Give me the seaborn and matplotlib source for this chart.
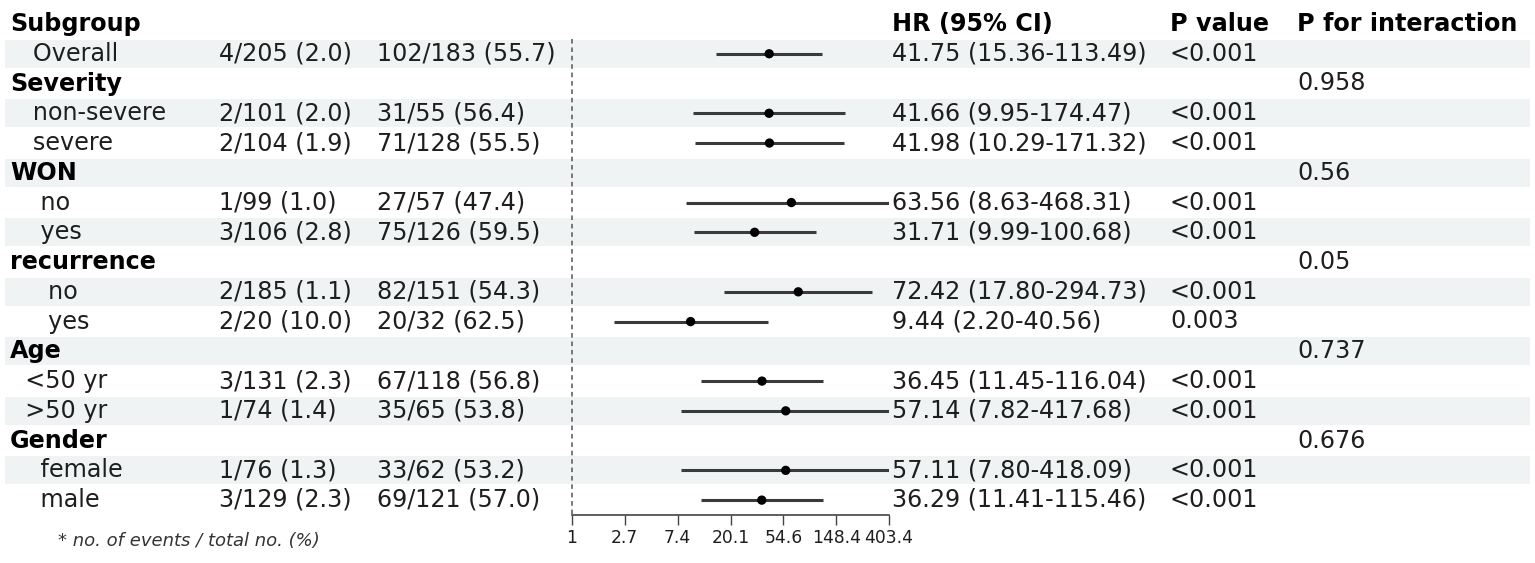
import numpy as np
import pandas as pd
import matplotlib
matplotlib.use("Agg")
import matplotlib.pyplot as plt
import seaborn as sns

# rows below the header line
labels = ["   Overall", "Severity", "   non-severe", "   severe", "WON", "    no", "    yes",
          "recurrence", "     no", "     yes", "Age", "  <50 yr", "  >50 yr", "Gender",
          "    female", "    male"]
group_rows = ["Severity", "WON", "recurrence", "Age", "Gender"]
events_a = ["4/205 (2.0)", "", "2/101 (2.0)", "2/104 (1.9)", "", "1/99 (1.0)", "3/106 (2.8)", "",
            "2/185 (1.1)", "2/20 (10.0)", "", "3/131 (2.3)", "1/74 (1.4)", "", "1/76 (1.3)",
            "3/129 (2.3)"]
events_b = ["102/183 (55.7)", "", "31/55 (56.4)", "71/128 (55.5)", "", "27/57 (47.4)", "75/126 (59.5)",
            "", "82/151 (54.3)", "20/32 (62.5)", "", "67/118 (56.8)", "35/65 (53.8)", "",
            "33/62 (53.2)", "69/121 (57.0)"]
hr = [41.75, np.nan, 41.66, 41.98, np.nan, 63.56, 31.71, np.nan, 72.42, 9.44, np.nan, 36.45, 57.14,
      np.nan, 57.11, 36.29]
lower = [15.36, np.nan, 9.95, 10.29, np.nan, 8.63, 9.99, np.nan, 17.80, 2.20, np.nan, 11.45, 7.82,
         np.nan, 7.80, 11.41]
upper = [113.49, np.nan, 174.47, 171.32, np.nan, 468.31, 100.68, np.nan, 294.73, 40.56, np.nan,
         116.04, 417.68, np.nan, 418.09, 115.46]
p_value = ["<0.001", "", "<0.001", "<0.001", "", "<0.001", "<0.001", "", "<0.001", "0.003", "",
           "<0.001", "<0.001", "", "<0.001", "<0.001"]
p_interaction = ["", "0.958", "", "", "0.56", "", "", "0.05", "", "", "0.737", "", "", "0.676", "", ""]

df = pd.DataFrame({"label": labels, "a": events_a, "b": events_b, "hr": hr, "lo": lower,
                   "hi": upper, "p": p_value, "pint": p_interaction})
df["row"] = np.arange(1, len(df) + 1)

sns.set_style("white")
plt.rcParams["font.family"] = ["DejaVu Sans"]

W, H = 1535, 563
ROW0, STEP = 24, 29.75          # pixel centre of header row and row pitch
FS = 17.2
TXT = "#1e1e1e"

fig = plt.figure(figsize=(W / 100, H / 100), dpi=100)

# table layer, x in pixels, y in rows
tab = fig.add_axes([0, 0, 1, 1])
tab.set_xlim(0, W)
tab.set_ylim((H - ROW0) / STEP, -ROW0 / STEP)
tab.axis("off")

for r in df["row"]:
    if r % 2 == 1:
        tab.axhspan(r - 0.47, r + 0.47, xmin=5 / W, xmax=1530 / W, color="#f0f3f4", lw=0, zorder=0)

heads = {10: "Subgroup", 892: "HR (95% CI)", 1170: "P value", 1297: "P for interaction"}
for x, t in heads.items():
    tab.text(x, 0, t, fontsize=FS, fontweight="bold", va="center", ha="left", color="black")

for _, d in df.iterrows():
    bold = d["label"] in group_rows
    tab.text(10, d["row"], d["label"], fontsize=FS, fontweight="bold" if bold else "normal",
             va="center", color="black" if bold else TXT)
    tab.text(219, d["row"], d["a"], fontsize=FS, va="center", color=TXT)
    tab.text(377, d["row"], d["b"], fontsize=FS, va="center", color=TXT)
    if not np.isnan(d["hr"]):
        tab.text(892, d["row"], f"{d['hr']:.2f} ({d['lo']:.2f}-{d['hi']:.2f})", fontsize=FS,
                 va="center", color=TXT)
    tab.text(1170, d["row"], d["p"], fontsize=FS, va="center", color=TXT)
    tab.text(1297, d["row"], d["pint"], fontsize=FS, va="center", color=TXT)

tab.text(58, (541 - ROW0) / STEP, "* no. of events / total no. (%)", fontsize=13,
         style="italic", va="center", color="#333333")

# forest layer
left, right, top, bottom = 572, 889, ROW0 - STEP / 2, 515
ax = fig.add_axes([left / W, 1 - bottom / H, (right - left) / W, (bottom - top) / H])
ax.patch.set_alpha(0)
ax.set_xscale("log")
ax.set_xlim(1, np.exp(6))
ax.set_ylim(len(df) + 0.5, -0.5)

pts = df.dropna(subset=["hr"])
ax.hlines(pts["row"], pts["lo"], pts["hi"], color="#3a3a3a", lw=2.2, zorder=2)
sns.scatterplot(data=pts, x="hr", y="row", ax=ax, color="black", s=45, edgecolor="none",
                zorder=3, legend=False)
ax.vlines(1, 0.5, len(df) + 0.5, colors="#555555", lw=1.1, linestyles=(0, (3, 2.5)), clip_on=False)

ticks = np.exp(np.arange(0, 7))
ax.set_xticks(ticks)
ax.set_xticklabels(["1" if k == 0 else f"{v:.1f}" for k, v in enumerate(ticks)])
ax.xaxis.set_minor_locator(matplotlib.ticker.NullLocator())
ax.set_yticks([])
ax.set_xlabel("")
ax.set_ylabel("")
for s in ["top", "left", "right"]:
    ax.spines[s].set_visible(False)
ax.spines["bottom"].set_color("#444444")
ax.spines["bottom"].set_linewidth(1.2)
ax.tick_params(axis="x", direction="out", length=7, width=1, color="#444444",
               labelsize=12.3, labelcolor=TXT, pad=3, bottom=True)

fig.savefig("out.png", dpi=100)
